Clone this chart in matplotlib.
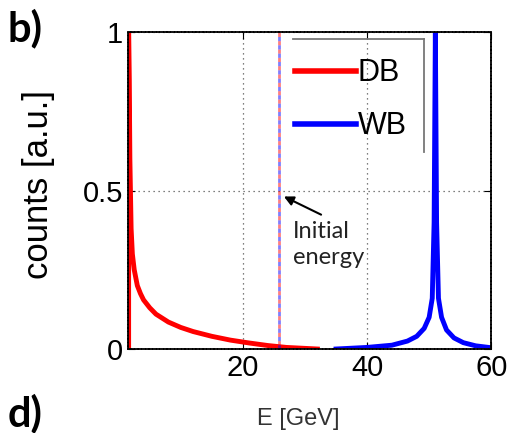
import numpy as np
import matplotlib
matplotlib.use('Agg')
import matplotlib.pyplot as plt
from matplotlib.lines import Line2D

plt.rcParams['font.family'] = ['Liberation Sans', 'DejaVu Sans']

# DB spectrum (red)
db_energy = [1.6, 1.6, 1.7, 1.8, 2.0, 2.2, 2.5, 3.0, 3.5, 4.0, 5.0, 6.0, 8.0, 10.0,
             12.0, 15.0, 18.0, 21.0, 24.0, 27.0, 30.0, 32.0]
db_counts = [0.0, 1.0, 0.85, 0.6, 0.38, 0.3, 0.25, 0.2, 0.175, 0.155, 0.13, 0.11,
             0.085, 0.068, 0.055, 0.04, 0.028, 0.019, 0.011, 0.005, 0.002, 0.0]

# WB spectrum (blue)
wb_energy = [35.0, 40.0, 44.0, 46.5, 48.0, 49.2, 50.0, 50.5, 50.8, 51.0, 51.2, 51.5,
             52.0, 52.8, 54.0, 55.5, 57.5, 60.0]
wb_counts = [0.0, 0.005, 0.012, 0.025, 0.04, 0.065, 0.1, 0.16, 0.4, 1.0, 0.4, 0.16,
             0.1, 0.06, 0.035, 0.02, 0.01, 0.004]

initial_energy = 25.8

fig = plt.figure(figsize=(5.08, 4.33), dpi=100)
ax = fig.add_axes([0.252, 0.194, 0.715, 0.732])

ax.plot(db_energy, db_counts, color='red', lw=3.5, label='DB', solid_joinstyle='round')
ax.plot(wb_energy, wb_counts, color='blue', lw=3.5, label='WB', solid_joinstyle='round')

# initial energy marker, red/blue alternating dashes
ax.axvline(initial_energy, color='blue', lw=2.0, dashes=(1.5, 1.5), dash_capstyle='butt',
           alpha=0.5, gapcolor='red')

ax.set_xlim(1.5, 60)
ax.set_ylim(0, 1)
ax.set_xticks([20, 40, 60])
ax.set_yticks([0, 0.5, 1])
ax.set_yticklabels(['0', '0.5', '1'])
ax.tick_params(direction='in', labelsize=21, top=True, right=True, length=5, width=0.8)
ax.grid(True, linestyle=(0, (1, 3)), color='#555555', lw=0.9)
for sp in ax.spines.values():
    sp.set_linestyle((0, (1.2, 0.8)))
    sp.set_linewidth(1.3)

ax.set_ylabel('counts [a.u.]', fontsize=25)
ax.yaxis.set_label_coords(-0.2, 0.52)
ax.set_xlabel('E [GeV]', fontsize=17, color='#333333')
ax.xaxis.set_label_coords(0.47, -0.185)

# legend with only top and right edge drawn
handles = [Line2D([], [], color='red', lw=4), Line2D([], [], color='blue', lw=4)]
ax.legend(handles, ['DB', 'WB'], loc='upper left', bbox_to_anchor=(0.41, 0.975),
          frameon=False, fontsize=22, handlelength=2.0, handletextpad=0.05,
          labelspacing=0.75, borderaxespad=0.2)
ax.plot([0.455, 0.815], [0.978, 0.978], transform=ax.transAxes, color='#777777', lw=1.3)
ax.plot([0.815, 0.815], [0.978, 0.62], transform=ax.transAxes, color='#777777', lw=1.3)

ax.annotate('', xy=(initial_energy + 0.4, 0.485), xytext=(33.0, 0.42),
            arrowprops=dict(arrowstyle='-|>', color='black', lw=1.5, mutation_scale=14))
ax.text(28.0, 0.33, 'Initial\nenergy', fontsize=17, family=['Lato', 'DejaVu Sans'],
        color='#222222', va='center', ha='left', linespacing=1.3)

fig.text(0.015, 0.935, 'b)', fontsize=30, fontweight='bold', family=['Lato', 'DejaVu Sans'],
         va='center')
fig.text(0.015, 0.045, 'd)', fontsize=30, fontweight='bold', family=['Lato', 'DejaVu Sans'],
         va='center')

fig.savefig('out.png', dpi=100)
